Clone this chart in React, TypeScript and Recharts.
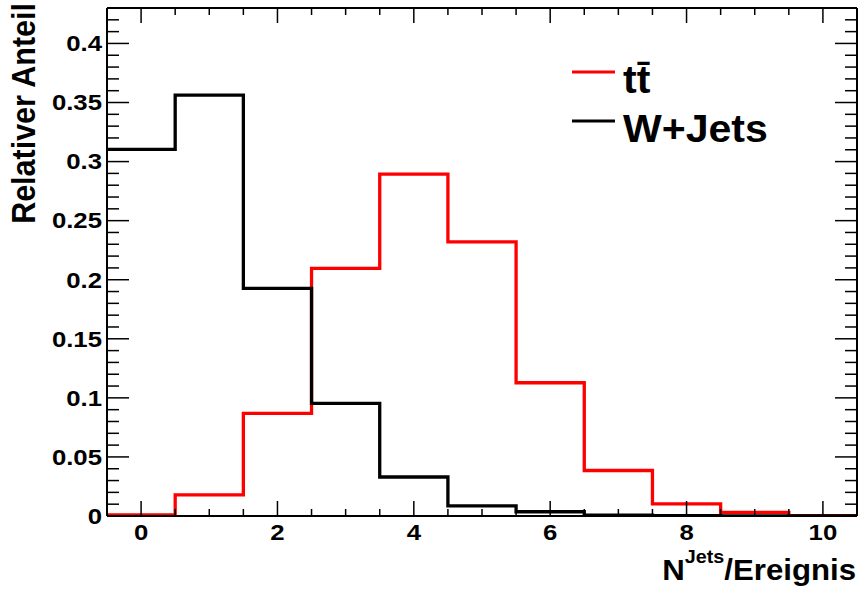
import React from 'react';
import { ComposedChart, Line, XAxis, YAxis, Legend } from 'recharts';

// ---- data ----
const bins = [0, 1, 2, 3, 4, 5, 6, 7, 8, 9, 10];
const ttbarValues = [0.001, 0.0178, 0.0869, 0.2096, 0.2894, 0.2321, 0.1128, 0.0385, 0.0102, 0.003, 0.0004];
const wjetsValues = [0.3103, 0.3563, 0.1927, 0.0954, 0.033, 0.0085, 0.0036, 0.0008, 0.0002, 0.0001, 0];
const seriesNames = ['tt\u0304', 'W+Jets'];
const seriesColors = ['#ff0000', '#000000'];

const xMajorTicks = [0, 2, 4, 6, 8, 10];
const xTickLabels = ['0', '2', '4', '6', '8', '10'];
const yMajorTicks = [0, 0.05, 0.1, 0.15, 0.2, 0.25, 0.3, 0.35, 0.4];
const yTickLabels = ['0', '0.05', '0.1', '0.15', '0.2', '0.25', '0.3', '0.35', '0.4'];

const xDomain = [-0.5, 10.5];
const yDomain = [0, 0.43];
const binWidth = 1;

// minor tick positions
const xAllTicks = Array.from({ length: 21 }, (_, i) => i * 0.5);
const yAllTicks = Array.from({ length: 43 }, (_, i) => i / 100);

// step-histogram table from bin edges
const histData = [
  ...bins.map((b, i) => ({ x: b - binWidth / 2, tt: ttbarValues[i], wj: wjetsValues[i] })),
  {
    x: bins[bins.length - 1] + binWidth / 2,
    tt: ttbarValues[ttbarValues.length - 1],
    wj: wjetsValues[wjetsValues.length - 1],
  },
];

const FONT = '"Liberation Sans", Arial, Helvetica, sans-serif';
const TICK_STROKE = 1.5;

const findIdx = (arr: number[], v: number) => arr.findIndex((a) => Math.abs(a - v) < 1e-6);

const BottomTick = (props: any) => {
  const { x, y, payload } = props;
  const idx = findIdx(xMajorTicks, payload.value);
  const major = idx >= 0;
  return (
    <g>
      <line x1={x} x2={x} y1={y} y2={y - (major ? 15 : 7)} stroke="#000" strokeWidth={TICK_STROKE} />
      {major && (
        <text
          transform={`translate(${x},${y + 16}) scale(1.17,1)`}
          x={0}
          y={0}
          textAnchor="middle"
          dominantBaseline="central"
          fontFamily={FONT}
          fontWeight="bold"
          fontSize={22}
          fill="#000"
        >
          {xTickLabels[idx]}
        </text>
      )}
    </g>
  );
};

const TopTick = (props: any) => {
  const { x, y, payload } = props;
  const major = findIdx(xMajorTicks, payload.value) >= 0;
  return <line x1={x} x2={x} y1={y} y2={y + (major ? 15 : 7)} stroke="#000" strokeWidth={TICK_STROKE} />;
};

const LeftTick = (props: any) => {
  const { x, y, payload } = props;
  const idx = findIdx(yMajorTicks, payload.value);
  const major = idx >= 0;
  return (
    <g>
      <line x1={x} x2={x + (major ? 22 : 12)} y1={y} y2={y} stroke="#000" strokeWidth={TICK_STROKE} />
      {major && (
        <text
          transform={`translate(${x - 5},${y}) scale(1.17,1)`}
          x={0}
          y={0}
          textAnchor="end"
          dominantBaseline="central"
          fontFamily={FONT}
          fontWeight="bold"
          fontSize={22}
          fill="#000"
        >
          {yTickLabels[idx]}
        </text>
      )}
    </g>
  );
};

const RightTick = (props: any) => {
  const { x, y, payload } = props;
  const major = findIdx(yMajorTicks, payload.value) >= 0;
  return <line x1={x} x2={x - (major ? 22 : 12)} y1={y} y2={y} stroke="#000" strokeWidth={TICK_STROKE} />;
};

const XTitle = (props: any) => {
  const vb = props.viewBox || {};
  const xEnd = (vb.x ?? 0) + (vb.width ?? 0) - 1;
  const yBase = (vb.y ?? 0) + 64;
  return (
    <text
      transform={`translate(${xEnd},${yBase}) scale(1.04,1)`}
      x={0}
      y={0}
      textAnchor="end"
      fontFamily={FONT}
      fontWeight="bold"
      fontSize={30}
      fill="#000"
    >
      <tspan>N</tspan>
      <tspan dy={-17} fontSize={19}>Jets</tspan>
      <tspan dy={17}>/Ereignis</tspan>
    </text>
  );
};

const YTitle = (props: any) => {
  const vb = props.viewBox || {};
  const xBase = (vb.x ?? 0) + (vb.width ?? 0) - 72;
  const yTop = (vb.y ?? 0) - 5;
  return (
    <text
      transform={`translate(${xBase},${yTop}) rotate(-90) scale(1,1.07)`}
      x={0}
      y={0}
      textAnchor="end"
      fontFamily={FONT}
      fontWeight="bold"
      fontSize={30.5}
      fill="#000"
    >
      Relativer Anteil
    </text>
  );
};

const LegendContent = (props: any) => {
  const payload = (props.payload || [])
    .filter((p: any) => seriesNames.includes(p.value))
    .sort((a: any, b: any) => seriesNames.indexOf(a.value) - seriesNames.indexOf(b.value));
  return (
    <svg width={260} height={110} style={{ display: 'block', overflow: 'visible' }}>
      {payload.map((p: any, i: number) => {
        const ly = 32 + i * 49;
        return (
          <g key={i}>
            <line x1={12} x2={55} y1={ly} y2={ly} stroke={p.color} strokeWidth={3} />
            <text
              transform={`translate(63,${ly + 21}) scale(1.08,1)`}
              x={0}
              y={0}
              fontFamily={FONT}
              fontWeight="bold"
              fontSize={38}
              fill="#000"
            >
              {p.value}
            </text>
          </g>
        );
      })}
    </svg>
  );
};

const axisLineStyle = { stroke: '#000', strokeWidth: 2 };

export default function App() {
  return (
    <div style={{ position: 'absolute', left: 0, top: 0, background: '#fff' }}>
      <ComposedChart
        width={858}
        height={589}
        data={histData}
        margin={{ top: 7, right: 0, bottom: 72, left: 106 }}
      >
        <XAxis
          xAxisId="bottom"
          dataKey="x"
          type="number"
          orientation="bottom"
          domain={xDomain}
          ticks={xAllTicks}
          interval={0}
          allowDataOverflow
          height={1}
          tickSize={0}
          tickMargin={0}
          tickLine={false}
          axisLine={axisLineStyle}
          tick={<BottomTick />}
          label={{ content: <XTitle /> }}
        />
        <XAxis
          xAxisId="top"
          dataKey="x"
          type="number"
          orientation="top"
          domain={xDomain}
          ticks={xAllTicks}
          interval={0}
          allowDataOverflow
          height={1}
          tickSize={0}
          tickMargin={0}
          tickLine={false}
          axisLine={axisLineStyle}
          tick={<TopTick />}
        />
        <YAxis
          yAxisId="left"
          type="number"
          orientation="left"
          domain={yDomain}
          ticks={yAllTicks}
          interval={0}
          allowDataOverflow
          width={1}
          tickSize={0}
          tickMargin={0}
          tickLine={false}
          axisLine={axisLineStyle}
          tick={<LeftTick />}
          label={{ content: <YTitle /> }}
        />
        <YAxis
          yAxisId="right"
          type="number"
          orientation="right"
          domain={yDomain}
          ticks={yAllTicks}
          interval={0}
          allowDataOverflow
          width={1}
          tickSize={0}
          tickMargin={0}
          tickLine={false}
          axisLine={axisLineStyle}
          tick={<RightTick />}
        />
        <Legend
          layout="vertical"
          align="center"
          verticalAlign="middle"
          wrapperStyle={{ position: 'absolute', left: 560, top: 40, width: 260, height: 110 }}
          content={<LegendContent />}
        />
        <Line
          xAxisId="bottom"
          yAxisId="left"
          dataKey="tt"
          name={seriesNames[0]}
          type="stepAfter"
          stroke={seriesColors[0]}
          strokeWidth={3.3}
          dot={false}
          activeDot={false}
          isAnimationActive={false}
        />
        <Line
          xAxisId="bottom"
          yAxisId="left"
          dataKey="wj"
          name={seriesNames[1]}
          type="stepAfter"
          stroke={seriesColors[1]}
          strokeWidth={3.3}
          dot={false}
          activeDot={false}
          isAnimationActive={false}
        />
        <Line
          xAxisId="top"
          yAxisId="right"
          dataKey="wj"
          name="hidden"
          legendType="none"
          stroke="none"
          strokeWidth={0}
          dot={false}
          activeDot={false}
          isAnimationActive={false}
        />
      </ComposedChart>
    </div>
  );
}
